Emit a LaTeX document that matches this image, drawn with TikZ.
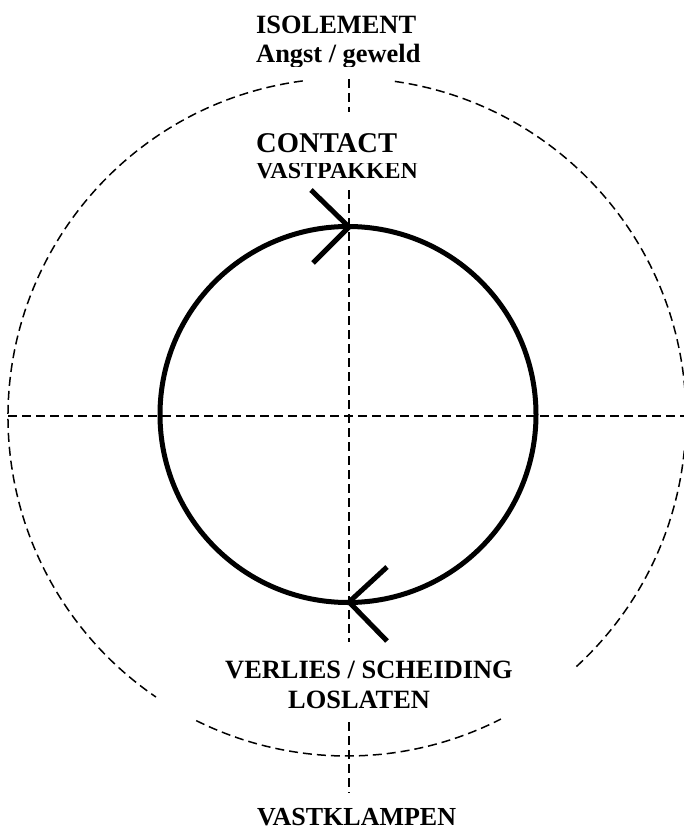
\documentclass[tikz,border=0pt]{standalone}
\usepackage{fontspec}
\setmainfont{Liberation Serif}
\begin{document}
\begin{tikzpicture}[x=1pt,y=1pt,
  guide/.style={line width=1.5pt, dash pattern=on 9pt off 5pt},
  cycle/.style={line width=5pt},
  lbl/.style={anchor=base west, inner sep=0pt, font=\bfseries}]
\useasboundingbox (0,0) rectangle (684,-832);
% outer dashed circle (open at the labels)
\coordinate (O) at (347,-417);
\draw[guide] (O) ++(97.5:339) arc[start angle=97.5, end angle=235.7, radius=339];
\draw[guide] (O) ++(243.6:339) arc[start angle=243.6, end angle=297, radius=339];
\draw[guide] (O) ++(312.6:339) arc[start angle=312.6, end angle=441.9, radius=339];
% axes
\coordinate (hl) at (8,-416);
\coordinate (hr) at (684,-416);
\draw[guide] (hl) -- (hr);
\coordinate (v1) at (349,-79);  \coordinate (v2) at (349,-112);
\coordinate (v3) at (349,-190); \coordinate (v4) at (349,-642);
\coordinate (v5) at (349,-722); \coordinate (v6) at (349,-793);
\draw[guide] (v1) -- (v2);
\draw[guide] (v3) -- (v4);
\draw[guide] (v5) -- (v6);
% inner cycle
\coordinate (C) at (348,-414.5);
\draw[cycle] (C) circle[radius=188];
% chevrons
\coordinate (ta) at (311,-190); \coordinate (tt) at (349,-227); \coordinate (tb) at (313,-263);
\draw[cycle] (ta) -- (tt) -- (tb);
\coordinate (ba) at (387,-567); \coordinate (bt) at (349,-602); \coordinate (bb) at (387,-641);
\draw[cycle] (ba) -- (bt) -- (bb);
% labels
\node[lbl] (iso) at (256,-34) {\fontsize{26.4}{30}\selectfont ISOLEMENT};
\begin{scope}
\clip (200,-40) rectangle (480,-67);
\node[lbl] (angst) at (256,-63) {\fontsize{26.4}{30}\selectfont Angst / geweld};
\end{scope}
\node[lbl] (contact) at (256,-152) {\fontsize{28.6}{32}\selectfont CONTACT};
\begin{scope}
\clip (200,-163) rectangle (480,-186);
\node[lbl] (vastp) at (256,-178) {\fontsize{24}{28}\selectfont VASTPAKKEN};
\end{scope}
\node[lbl] (verlies) at (225,-678) {\fontsize{26.4}{30}\selectfont VERLIES / SCHEIDING};
\node[lbl] (loslaten) at (288,-708) {\fontsize{26.4}{30}\selectfont LOSLATEN};
\node[lbl, text depth=0pt] (vastk) at (257,-825) {\fontsize{26}{30}\selectfont VASTKLAMPEN};
\end{tikzpicture}
\end{document}
